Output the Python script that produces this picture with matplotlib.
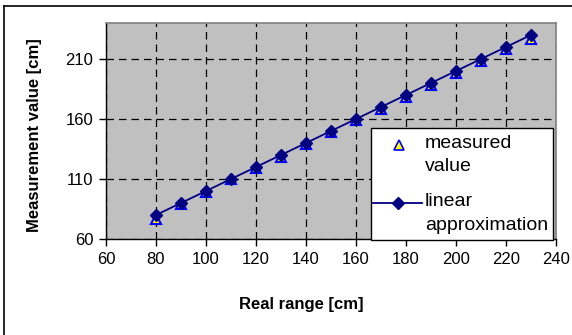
import matplotlib
matplotlib.use("Agg")
import matplotlib.pyplot as plt
from matplotlib.lines import Line2D
from matplotlib.patches import Rectangle

real_range = [80, 90, 100, 110, 120, 130, 140, 150, 160, 170, 180, 190, 200, 210, 220, 230]
measured = [77, 89, 99, 110, 119, 128, 139, 149, 159, 168, 178, 188, 198, 208, 218, 227]
linear = [80, 90, 100, 110, 120, 130, 140, 150, 160, 170, 180, 190, 200, 210, 220, 230]
xticks = [60, 80, 100, 120, 140, 160, 180, 200, 220, 240]
yticks = [60, 110, 160, 210]
legend_labels = ['measured\nvalue', 'linear\napproximation']

plt.rcParams['font.family'] = ['Liberation Sans', 'DejaVu Sans']

W, H = 572, 335
fig = plt.figure(figsize=(W / 100, H / 100), dpi=100)


def fx(px):
    return px / W


def fy(py):
    return 1 - py / H


ax = fig.add_axes([fx(106), fy(239), (556 - 106) / W, (239 - 23) / H])
ax.set_facecolor('#c0c0c0')

tri_style = dict(linestyle='none', marker='^', markerfacecolor='#ffff00',
                 markeredgecolor='#0000ff')
lin_style = dict(color='#000080', linewidth=1.3, marker='D',
                 markerfacecolor='#000080', markeredgecolor='#000080')

ax.plot(real_range, measured, markersize=7, markeredgewidth=1.5, zorder=3, **tri_style)
ax.plot(real_range, linear, markersize=6.5, zorder=4, **lin_style)

ax.set_xlim(60, 240)
ax.set_ylim(60, 240)
ax.set_xticks(xticks)
ax.set_yticks(yticks)
ax.tick_params(direction='out', length=5, width=1, labelsize=12, color='black', pad=4)
ax.grid(True, color='black', linestyle=(0, (6, 4)), linewidth=0.9)
ax.set_axisbelow(True)
for s in ['top', 'right']:
    ax.spines[s].set_color('#808080')
    ax.spines[s].set_linewidth(1.2)
for s in ['left', 'bottom']:
    ax.spines[s].set_color('black')
    ax.spines[s].set_linewidth(1)

fig.text(fx(301), fy(304), 'Real range [cm]', ha='center', va='center',
         fontsize=12, fontweight='bold')
fig.text(fx(35), fy(135), 'Measurement value [cm]', ha='center', va='center',
         rotation=90, fontsize=12, fontweight='bold')

# legend box (drawn by hand to match the original layout)
fig.add_artist(Rectangle((fx(371), fy(240)), (553 - 371) / W, (240 - 128) / H,
                         transform=fig.transFigure, facecolor='white',
                         edgecolor='black', linewidth=1, zorder=10))
fig.add_artist(Line2D([fx(399)], [fy(145)], markersize=6.5, markeredgewidth=1.2,
                      transform=fig.transFigure, zorder=11, **tri_style))
fig.add_artist(Line2D([fx(373), fx(422)], [fy(203), fy(203)], markersize=6.5,
                      markevery=[], transform=fig.transFigure, zorder=11, **lin_style))
fig.add_artist(Line2D([fx(397.5)], [fy(203)], markersize=6.5, transform=fig.transFigure,
                      zorder=11, **lin_style))
for lab, ytop in zip(legend_labels, [144, 202]):
    for i, line in enumerate(lab.split('\n')):
        fig.text(fx(425), fy(ytop + 23 * i), line, ha='left', va='center',
                 fontsize=14, zorder=12)

# outer chart frame
fig.add_artist(Line2D([fx(4), fx(4)], [0, fy(6)], color='black', linewidth=1.2,
                      transform=fig.transFigure))
fig.add_artist(Line2D([fx(4), 1], [fy(6), fy(6)], color='black', linewidth=1.2,
                      transform=fig.transFigure))

fig.savefig('out.png', dpi=100)
